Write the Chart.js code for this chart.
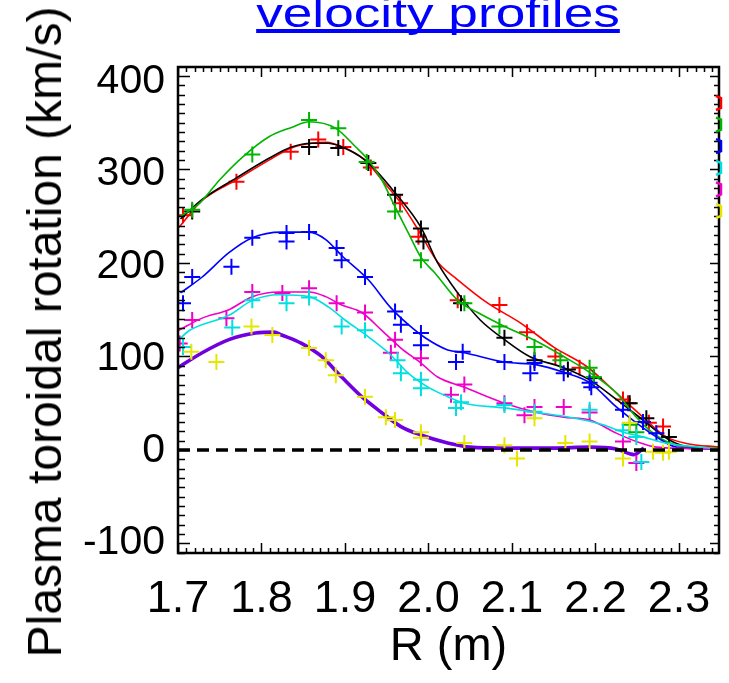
<!DOCTYPE html>
<html><head><meta charset="utf-8">
<script src="https://cdn.jsdelivr.net/npm/chart.js@4.4.0/dist/chart.umd.min.js"></script>
<style>
html,body{margin:0;padding:0;background:#fff;width:729px;height:683px;overflow:hidden;}
#wrap{position:relative;width:729px;height:683px;}
canvas{position:absolute;left:0;top:0;}
#title{position:absolute;left:438px;top:-7px;font:40px/40px "Liberation Sans",Arial,sans-serif;color:#0000ff;text-decoration:underline;text-decoration-skip-ink:none;white-space:nowrap;transform:translateX(-50%) scaleX(1.33);}
#ytitle{position:absolute;left:45px;top:332px;font:48px/48px "Liberation Sans",Arial,sans-serif;color:#000;white-space:nowrap;transform:translate(-50%,-50%) rotate(-90deg);}
</style></head><body>
<div id="wrap"><canvas id="c" width="729" height="683"></canvas>
<div id="title">velocity profiles</div>
<div id="ytitle">Plasma toroidal rotation (km/s)</div></div>
<script>
const xTickValues = [1.7, 1.8, 1.9, 2.0, 2.1, 2.2, 2.3];
const xTickLabels = ['1.7', '1.8', '1.9', '2.0', '2.1', '2.2', '2.3'];
const yTickValues = [400, 300, 200, 100, 0, -100];
const yTickLabels = ['400', '300', '200', '100', '0', '-100'];

// fitted profiles (thin lines)
const greenLineR = [1.703,1.726,1.750,1.777,1.809,1.836,1.857,1.889,1.913,1.928,1.944,1.960,1.976,1.991,2.008,2.035,2.059,2.087,2.130,2.162,2.193,2.225,2.249,2.265,2.288,2.312,2.348];
const greenLineV = [250,264,289,313,335,345,351,344,324,310,289,260,232,206,189,160,147,134,116,100,83,61,35,21,8,3,2];
const redLineR = [1.701,1.729,1.770,1.809,1.836,1.860,1.877,1.900,1.924,1.944,1.967,1.988,2.011,2.035,2.071,2.110,2.150,2.190,2.225,2.257,2.285,2.309,2.348];
const redLineV = [238,267,289,310,323,328,329,323,310,289,264,235,201,182,157,136,110,89,61,35,14,7,3];
const blackLineR = [1.703,1.729,1.770,1.809,1.836,1.860,1.880,1.904,1.928,1.960,1.991,2.011,2.035,2.062,2.091,2.121,2.162,2.193,2.225,2.257,2.288,2.312,2.348];
const blackLineV = [247,268,291,312,324,328,328,321,307,275,238,200,168,139,118,100,88,75,54,32,11,3,1];
const blueLineR = [1.703,1.729,1.761,1.789,1.824,1.857,1.877,1.896,1.928,1.955,1.976,1.996,2.023,2.043,2.091,2.130,2.162,2.193,2.225,2.249,2.273,2.297,2.348];
const blueLineV = [168,185,211,227,233,233,225,208,182,152,134,120,107,104,94,91,83,72,46,29,14,3,1];
const magentaLineR = [1.701,1.729,1.761,1.789,1.821,1.857,1.877,1.896,1.920,1.944,1.967,1.991,2.011,2.043,2.091,2.130,2.162,2.193,2.225,2.249,2.273,2.348];
const magentaLineV = [128,141,150,164,169,169,164,155,147,128,109,93,78,67,50,40,35,32,18,9,3,1];
const cyanLineR = [1.701,1.714,1.761,1.789,1.821,1.857,1.880,1.900,1.928,1.952,1.976,2.000,2.023,2.043,2.091,2.130,2.169,2.209,2.233,2.257,2.281,2.348];
const cyanLineV = [118,128,144,160,166,164,153,139,121,104,82,67,57,50,45,40,35,27,19,14,8,1];
// thick profile
const purpleLineR = [1.700,1.729,1.761,1.793,1.815,1.824,1.848,1.872,1.896,1.920,1.944,1.967,1.991,2.023,2.050,2.091,2.150,2.193,2.225,2.246,2.258];
const purpleLineV = [88,104,118,125,126,123,114,100,78,57,40,25,16,7.5,3,2,2,3,1,-5,2];

// measured points (+ markers)
const greenPtsR = [1.717,1.789,1.857,1.892,1.926,1.960,1.991,2.043,2.085,2.127,2.158,2.193,2.198,2.241,2.249];
const greenPtsV = [257,316,353,344,308,255,203,157,132,110,96,88,78,27,19];
const redPtsR = [1.706,1.770,1.835,1.868,1.898,1.931,1.966,1.988,2.035,2.085,2.118,2.152,2.181,2.233,2.239,2.264,2.281];
const redPtsV = [251,287,319,332,324,302,264,228,160,155,126,100,88,54,50,29,25];
const blackPtsR = [1.717,1.857,1.892,1.928,1.960,1.991,1.994,2.039,2.091,2.127,2.167,2.198,2.241,2.261,2.288];
const blackPtsV = [255,324,323,307,273,237,223,157,120,96,86,77,50,34,14];
const bluePtsR = [1.706,1.717,1.764,1.789,1.830,1.830,1.857,1.890,1.896,1.924,1.960,1.967,1.991,1.991,2.041,2.033,2.091,2.127,2.122,2.162,2.193,2.195,2.233,2.257,2.273];
const bluePtsV = [157,185,196,227,232,223,233,216,203,185,148,134,125,112,105,94,94,93,82,82,72,67,43,30,18];
const magentaPtsR = [1.702,1.717,1.758,1.789,1.825,1.857,1.890,1.924,1.960,1.955,1.991,2.027,2.043,2.091,2.127,2.115,2.162,2.193,2.233,2.249];
const magentaPtsV = [114,139,141,169,168,173,157,147,118,104,98,59,70,50,46,37,46,40,9,-14];
const cyanPtsR = [1.706,1.765,1.789,1.830,1.857,1.896,1.924,1.963,1.967,1.991,1.991,2.039,2.033,2.091,2.127,2.193,2.233,2.249,2.255];
const cyanPtsV = [110,131,160,157,163,132,128,96,82,75,66,51,45,48,41,43,21,14,-13];
const yellowPtsR = [1.716,1.746,1.788,1.813,1.857,1.877,1.889,1.924,1.949,1.960,1.991,1.991,2.043,2.091,2.106,2.127,2.164,2.193,2.241,2.233,2.269,2.281,2.288];
const yellowPtsV = [105,94,132,123,109,96,80,57,35,32,19,13,7.5,5,-9,34,7.5,9,29,-9,-2,-3,-2];

const zeroR = [1.7, 2.348];
const zeroV = [0, 0];

const COLORS = {green:'#00b400', red:'#ff0000', black:'#000000', blue:'#0000ff', magenta:'#f000c8', cyan:'#00e0e0', yellow:'#e6e600', purple:'#7000e0'};

function zip(R, V) { return R.map((r, i) => ({x: r, y: V[i]})); }
function lineDs(R, V, color, w) {
  return {type:'scatter', showLine:true, data: zip(R, V), borderColor: color, backgroundColor: color,
          borderWidth: w, pointRadius: 0, cubicInterpolationMode:'monotone', fill:false};
}
function ptsDs(R, V, color) {
  return {type:'scatter', showLine:false, data: zip(R, V), borderColor: color, backgroundColor: color,
          pointStyle:'cross', pointRadius: 8, pointBorderWidth: 2, pointHoverRadius: 8};
}

const datasets = [
  Object.assign(lineDs(zeroR, zeroV, '#000', 3.5), {borderDash:[12, 7], cubicInterpolationMode:'default'}),
  ptsDs(yellowPtsR, yellowPtsV, COLORS.yellow),
  lineDs(cyanLineR, cyanLineV, COLORS.cyan, 1.6), ptsDs(cyanPtsR, cyanPtsV, COLORS.cyan),
  lineDs(magentaLineR, magentaLineV, COLORS.magenta, 1.6), ptsDs(magentaPtsR, magentaPtsV, COLORS.magenta),
  lineDs(blueLineR, blueLineV, COLORS.blue, 1.6), ptsDs(bluePtsR, bluePtsV, COLORS.blue),
  lineDs(greenLineR, greenLineV, COLORS.green, 1.6), ptsDs(greenPtsR, greenPtsV, COLORS.green),
  lineDs(blackLineR, blackLineV, COLORS.black, 1.6), ptsDs(blackPtsR, blackPtsV, COLORS.black),
  lineDs(redLineR, redLineV, COLORS.red, 1.6), ptsDs(redPtsR, redPtsV, COLORS.red),
  lineDs(purpleLineR, purpleLineV, COLORS.purple, 3.6)
];

const framePlugin = {
  id: 'frame',
  afterDatasetsDraw(chart) {
    const {ctx, chartArea: a, scales: {x, y}} = chart;
    ctx.save();
    ctx.strokeStyle = '#000';
    ctx.lineWidth = 1.5;
    ctx.beginPath();
    for (let k = 0; ; k++) {
      const v = x.min + k * 0.01;
      if (v > x.max + 1e-9) break;
      const px = Math.round(x.getPixelForValue(v)) + 0.5;
      const len = (k % 10 === 0) ? 10 : 5;
      ctx.moveTo(px, a.bottom); ctx.lineTo(px, a.bottom - len);
      ctx.moveTo(px, a.top); ctx.lineTo(px, a.top + len);
    }
    const y0 = Math.ceil(y.min / 10) * 10;
    for (let v = y0; v <= y.max + 1e-9; v += 10) {
      const py = Math.round(y.getPixelForValue(v)) + 0.5;
      const major = Math.abs(v % 100) < 1e-6;
      const len = major ? 12 : 7;
      ctx.moveTo(a.left, py); ctx.lineTo(a.left + len, py);
      ctx.moveTo(a.right, py); ctx.lineTo(a.right - (major ? 9 : 5), py);
    }
    ctx.stroke();
    ctx.lineWidth = 2.5;
    ctx.strokeRect(a.left, a.top, a.right - a.left, a.bottom - a.top);
    // clipped legend glyphs at the right edge
    const marks = [COLORS.red, COLORS.green, COLORS.blue, COLORS.cyan, COLORS.magenta, COLORS.yellow];
    ctx.lineWidth = 2.5;
    marks.forEach((c, i) => {
      const yy = a.top + 29 + i * 21.6;
      ctx.strokeStyle = c;
      ctx.beginPath();
      ctx.moveTo(a.right - 3, yy); ctx.lineTo(a.right + 2, yy + 2);
      ctx.lineTo(a.right + 2, yy + 12); ctx.lineTo(a.right - 3, yy + 14);
      ctx.stroke();
    });
    ctx.restore();
  }
};

const FONT = '"Liberation Sans", Arial, sans-serif';
new Chart(document.getElementById('c'), {
  type: 'scatter',
  data: {datasets},
  options: {
    responsive: false, animation: false, devicePixelRatio: 1, events: [],
    layout: {padding: {top: 67, right: 6, left: 0, bottom: 0}},
    plugins: {legend: {display: false}, tooltip: {enabled: false}, title: {display: false}},
    scales: {
      x: {
        type: 'linear', position: 'bottom', min: 1.7, max: 2.348,
        afterFit(s) { s.height = 130; s.paddingLeft = 0; s.paddingRight = 0; },
        afterBuildTicks(s) { s.ticks = xTickValues.map(v => ({value: v})); },
        grid: {display: false, drawTicks: false}, border: {display: false},
        ticks: {padding: 20, autoSkip: false, maxRotation: 0, color: '#000',
                font: {family: FONT, size: 45}, callback: (v, i) => xTickLabels[i]},
        title: {display: true, text: 'R (m)', color: '#000', font: {family: FONT, size: 47},
                padding: {top: 0, bottom: 8}}
      },
      y: {
        type: 'linear', position: 'left', min: -110.2, max: 409.6, display: false
      },
      yLab: {
        type: 'linear', position: 'left', min: -110.8, max: 415.9,
        afterFit(s) { s.width = 178; s.paddingTop = 0; s.paddingBottom = 0; },
        afterBuildTicks(s) { s.ticks = yTickValues.map(v => ({value: v})); },
        grid: {display: false, drawTicks: false}, border: {display: false},
        ticks: {padding: 13, autoSkip: false, color: '#000',
                font: {family: FONT, size: 41}, callback: (v, i) => yTickLabels[i]}
      }
    }
  },
  plugins: [framePlugin]
});
</script>
</body></html>
